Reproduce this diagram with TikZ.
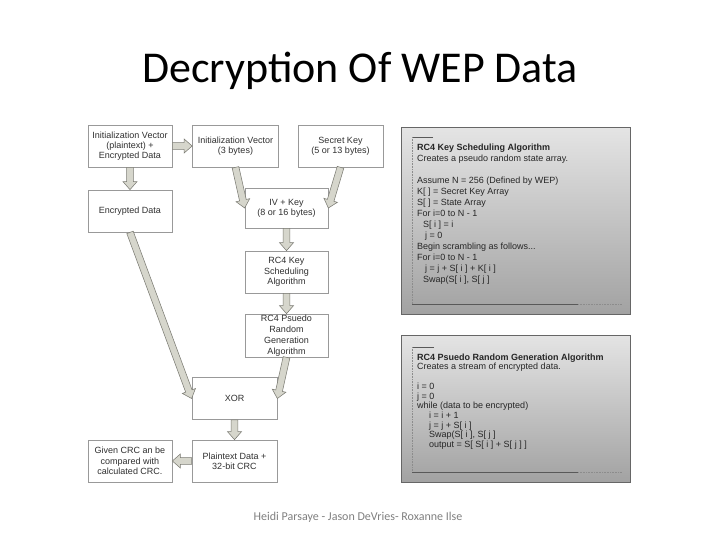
\documentclass[tikz,border=0pt]{standalone}
\usepackage{fontspec}
\setmainfont{Carlito}
\newfontfamily\arialf{Liberation Sans}
\usetikzlibrary{calc}
\definecolor{arrowfill}{HTML}{D6D6CC}
\definecolor{arrowline}{HTML}{7C7C74}
\definecolor{boxline}{HTML}{999999}
\definecolor{boxtext}{HTML}{303030}
\definecolor{paneltop}{HTML}{E4E4E4}
\definecolor{panelbot}{HTML}{A2A2A2}
\definecolor{footgray}{HTML}{808080}
\tikzset{
  flowbox/.style={draw=boxline, line width=0.7pt, fill=white, minimum width=#1, inner sep=0pt},
  boxlabel/.style={font=\arialf\fontsize{9}{10.3}\selectfont, text=boxtext, align=center},
  barrow/.style={fill=arrowfill, draw=arrowline, line width=0.55pt, line join=miter,
    to path={
      let \p1=(\tikztostart), \p2=(\tikztotarget), \p3=($(\p2)!8pt!(\p1)$) in
      ($(\p1)!3.4pt!90:(\p2)$) -- ($(\p3)!3.4pt!90:(\p2)$) -- ($(\p3)!7pt!90:(\p2)$) -- (\p2)
      -- ($(\p3)!7pt!-90:(\p2)$) -- ($(\p3)!3.4pt!-90:(\p2)$) -- ($(\p1)!3.4pt!-90:(\p2)$) -- cycle
    }},
  panel/.style={draw=black!60, line width=0.7pt, top color=paneltop, bottom color=panelbot},
  paneltext/.style={font=\arialf\fontsize{9}{11}\selectfont, text=black!85, align=left, anchor=north west, inner sep=0pt},
  frameline/.style={draw=black!65, line width=0.5pt},
  framedot/.style={draw=black!45, line width=0.5pt, dash pattern=on 0.8pt off 0.8pt}
}
\begin{document}
\begin{tikzpicture}[x=1pt,y=-1pt]
\useasboundingbox (0,0) rectangle (720,540);
\fill[white] (0,0) rectangle (720,540);

% title
\node[font=\fontsize{44}{50}\selectfont, anchor=base] (title) at (360,83) {Decryption Of WEP Data};

% boxes
\node[flowbox=84pt, minimum height=42pt] (A) at (130,146) {};
\node[boxlabel] (At) at (A.center) {Initialization Vector\\(plaintext) +\\Encrypted Data};
\node[flowbox=86pt, minimum height=42pt] (B) at (235.5,146) {};
\node[boxlabel] (Bt) at (B.center) {Initialization Vector\\(3 bytes)};
\node[flowbox=85pt, minimum height=42pt] (C) at (340.5,146) {};
\node[boxlabel] (Ct) at (C.center) {Secret Key\\(5 or 13 bytes)};
\node[flowbox=84pt, minimum height=42pt] (D) at (130,211) {};
\node[boxlabel] (Dt) at (D.center) {Encrypted Data};
\node[flowbox=83pt, minimum height=40pt] (E) at (286.5,208) {};
\node[boxlabel] (Et) at (E.center) {IV + Key\\(8 or 16 bytes)};
\node[flowbox=83pt, minimum height=42pt] (F) at (286.5,272) {};
\node[boxlabel] (Ft) at (F.center) {RC4 Key\\Scheduling\\Algorithm};
\node[flowbox=83pt, minimum height=43pt] (G) at (286.5,335.5) {};
\node[boxlabel, font=\arialf\fontsize{9}{11}\selectfont] (Gt) at (G.center) {RC4 Psuedo\\Random\\Generation\\Algorithm};
\node[flowbox=85pt, minimum height=42pt] (H) at (234.5,398.5) {};
\node[boxlabel] (Ht) at (H.center) {XOR};
\node[flowbox=85pt, minimum height=42pt] (I) at (234.5,461) {};
\node[boxlabel] (It) at (I.center) {Plaintext Data +\\32-bit CRC};
\node[flowbox=84pt, minimum height=42pt] (J) at (130,461) {};
\node[boxlabel] (Jt) at (J.center) {Given CRC an be\\compared with\\calculated CRC.};

% arrows
\draw[barrow] (A.east) to (B.west);
\draw[barrow] (A.south) to (D.north);
\draw[barrow] (B.south) to (E.west);
\draw[barrow] (C.south) to (E.east);
\draw[barrow] (E.south) to (F.north);
\draw[barrow] (F.south) to (G.north);
\draw[barrow] (D.south) to (H.west);
\draw[barrow] (G.south) to (H.east);
\draw[barrow] (H.south) to (I.north);
\draw[barrow] (I.west) to (J.east);

% panel 1
\node[panel, minimum width=229pt, minimum height=187pt, anchor=north west, inner sep=0pt] (P1) at (401,127) {};
\draw[frameline] (433,137) -- (412,137);
\draw[framedot] (412,137) -- (412,304);
\draw[frameline] (412,304) -- (578,304);
\draw[framedot] (578,304) -- (622,304);
\node[paneltext] (P1t) at (417,143.5) {\textbf{RC4 Key Scheduling Algorithm}\\
Creates a pseudo random state array.\\[11pt]
Assume N = 256 (Defined by WEP)\\
K[ ] = Secret Key Array\\
S[ ] = State Array\\
For i=0 to N - 1\\
\hspace*{6pt}S[ i ] = i\\
\hspace*{8pt}j = 0\\
Begin scrambling as follows...\\
For i=0 to N - 1\\
\hspace*{8pt}j = j + S[ i ] + K[ i ]\\
\hspace*{6pt}Swap(S[ i ], S[ j ]};

% panel 2
\node[panel, minimum width=229pt, minimum height=147pt, anchor=north west, inner sep=0pt] (P2) at (401,335) {};
\draw[frameline] (434,347) -- (412,347);
\draw[framedot] (412,347) -- (412,472);
\draw[frameline] (412,472) -- (578,472);
\draw[framedot] (578,472) -- (622,472);
\node[paneltext, font=\arialf\fontsize{9}{9.7}\selectfont] (P2t) at (417,353.5) {\textbf{RC4 Psuedo Random Generation Algorithm}\\
Creates a stream of encrypted data.\\[9.7pt]
i = 0\\
j = 0\\
while (data to be encrypted)\\
\hspace*{12pt}i = i + 1\\
\hspace*{12pt}j = j + S[ i ]\\
\hspace*{12pt}Swap(S[ i ], S[ j ]\\
\hspace*{12pt}output = S[ S[ i ] + S[ j ] ]};

% footer
\node[font=\fontsize{12}{14}\selectfont, text=footgray, anchor=base] (foot) at (358,520) {Heidi Parsaye - Jason DeVries- Roxanne Ilse};
\end{tikzpicture}
\end{document}
